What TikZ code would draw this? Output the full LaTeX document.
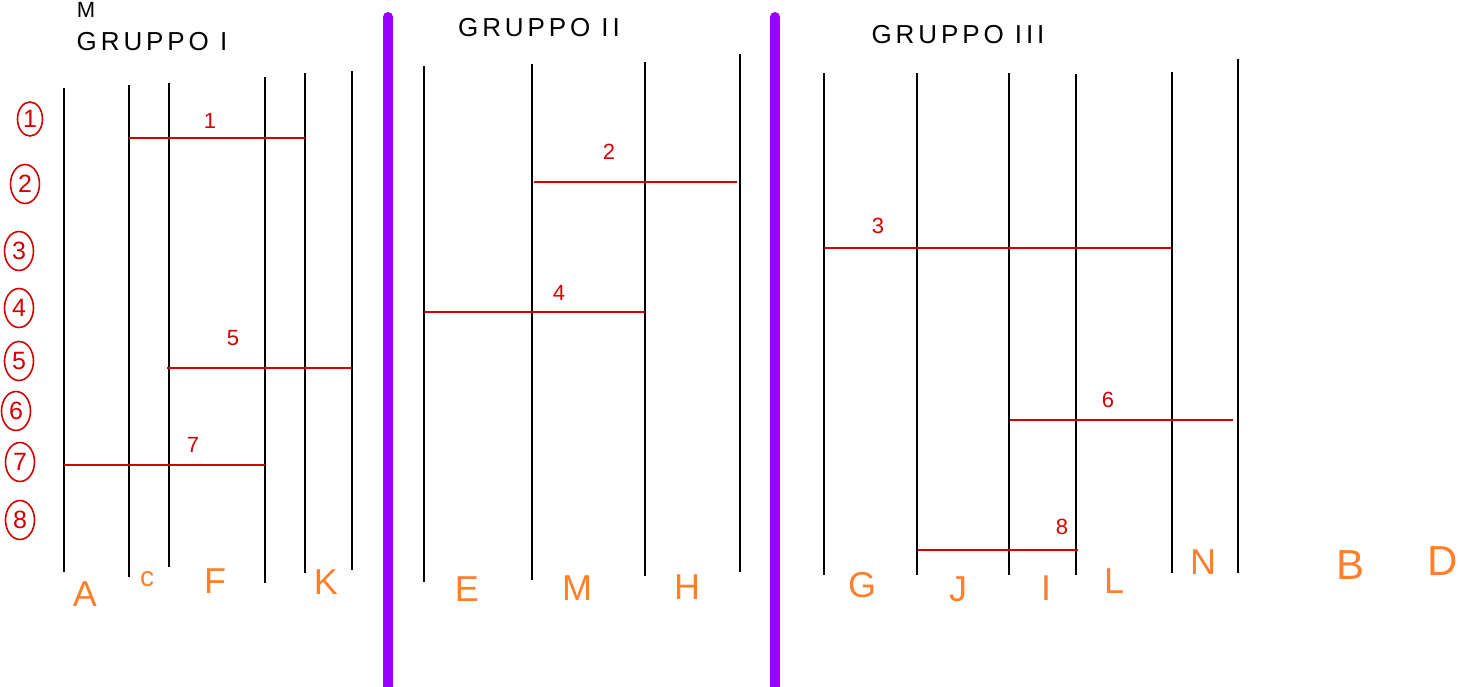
\documentclass[tikz,border=0pt]{standalone}
\usepackage{fontspec}
\setmainfont{Liberation Sans}
\usetikzlibrary{shapes.geometric}
\definecolor{rung}{HTML}{D40000}
\definecolor{lab}{HTML}{FF7F2A}
\definecolor{sep}{HTML}{9900FF}
\begin{document}
\begin{tikzpicture}[x=1pt,y=-1pt,
  wire/.style={line width=2.5pt,black},
  rungline/.style={line width=2.4pt,rung},
  sepline/.style={line width=10pt,sep,line cap=round},
  head/.style={font=\fontsize{26}{26}\selectfont\addfontfeatures{LetterSpace=15},inner sep=0pt},
  rowno/.style={ellipse,draw=rung,text=rung,line width=1.6pt,minimum width=29pt,minimum height=39pt,inner sep=0pt,font=\fontsize{25}{25}\selectfont},
  rungno/.style={text=rung,inner sep=0pt,font=\fontsize{22}{22}\selectfont},
  botlab/.style={text=lab,inner sep=0pt,font=\fontsize{36}{36}\selectfont},
  smalllab/.style={text=lab,inner sep=0pt,font=\fontsize{28}{28}\selectfont}]
\useasboundingbox (0,0) rectangle (1459,686);

% headings
\node[inner sep=0pt,font=\fontsize{22}{22}\selectfont] (mtop) at (86,10) {M};
\node[head] (h1) at (152,42) {GRUPPO I};
\node[head] (h2) at (539,28) {GRUPPO II};
\node[head] (h3) at (958,35) {GRUPPO III};

% separators
\coordinate (s1t) at (388,17); \coordinate (s1b) at (388,700);
\coordinate (s2t) at (775,17); \coordinate (s2b) at (775,700);
\draw[sepline] (s1t) -- (s1b);
\draw[sepline] (s2t) -- (s2b);

% vertical wires
\foreach \n/\x/\t/\b in {a1/64/88/572, a2/129/85/577, a3/169/83/567, a4/265/77/583, a5/305/73/573, a6/352/71/570,
                          b1/424/66/582, b2/532/64/580, b3/645/62/576, b4/740/54/572,
                          c1/824/73/575, c2/917/73/575, c3/1009/73/575, c4/1076/74/575, c5/1172/72/573, c6/1238/59/573}{
  \coordinate (\n t) at (\x,\t);
  \coordinate (\n b) at (\x,\b);
  \draw[wire] (\n t) -- (\n b);
}

% rungs
\coordinate (r1s) at (129,138); \coordinate (r1e) at (305,138);
\coordinate (r5s) at (167,368); \coordinate (r5e) at (351,368);
\coordinate (r7s) at (64,465);  \coordinate (r7e) at (265,465);
\coordinate (r2s) at (534,182); \coordinate (r2e) at (737,182);
\coordinate (r4s) at (425,312); \coordinate (r4e) at (645,312);
\coordinate (r3s) at (825,248); \coordinate (r3e) at (1171,248);
\coordinate (r6s) at (1010,420); \coordinate (r6e) at (1233,420);
\coordinate (r8s) at (918,550); \coordinate (r8e) at (1078,550);
\foreach \r in {1,2,3,4,5,6,7,8}{\draw[rungline] (r\r s) -- (r\r e);}

% rung numbers
\node[rungno] (n1) at (210,121) {1};
\node[rungno] (n5) at (233,338) {5};
\node[rungno] (n7) at (193,445) {7};
\node[rungno] (n2) at (609,152) {2};
\node[rungno] (n4) at (559,293) {4};
\node[rungno] (n3) at (878,226) {3};
\node[rungno] (n6) at (1108,400) {6};
\node[rungno] (n8) at (1062,527) {8};

% row numbers
\node[rowno,minimum width=25pt,minimum height=34pt] (o1) at (30,119) {1};
\node[rowno] (o2) at (25,184) {2};
\node[rowno] (o3) at (19,251) {3};
\node[rowno] (o4) at (19,308) {4};
\node[rowno] (o5) at (19,361) {5};
\node[rowno] (o6) at (16,411) {6};
\node[rowno] (o7) at (20,462) {7};
\node[rowno] (o8) at (20,520) {8};

% bottom labels
\node[botlab] (lA) at (85,594) {A};
\node[smalllab] (lC) at (147,579) {c};
\node[botlab] (lF) at (215,581) {F};
\node[botlab] (lK) at (326,582) {K};
\node[botlab] (lE) at (467,589) {E};
\node[botlab] (lM) at (577,588) {M};
\node[botlab] (lH) at (687,587) {H};
\node[botlab] (lG) at (862,585) {G};
\node[botlab] (lJ) at (958,589) {J};
\node[botlab] (lI) at (1046,588) {I};
\node[botlab] (lL) at (1114,581) {L};
\node[botlab] (lN) at (1203,562) {N};
\node[botlab,font=\fontsize{42}{42}\selectfont] (lB) at (1350,565) {B};
\node[botlab,font=\fontsize{42}{42}\selectfont] (lD) at (1443,561) {D};
\end{tikzpicture}
\end{document}
